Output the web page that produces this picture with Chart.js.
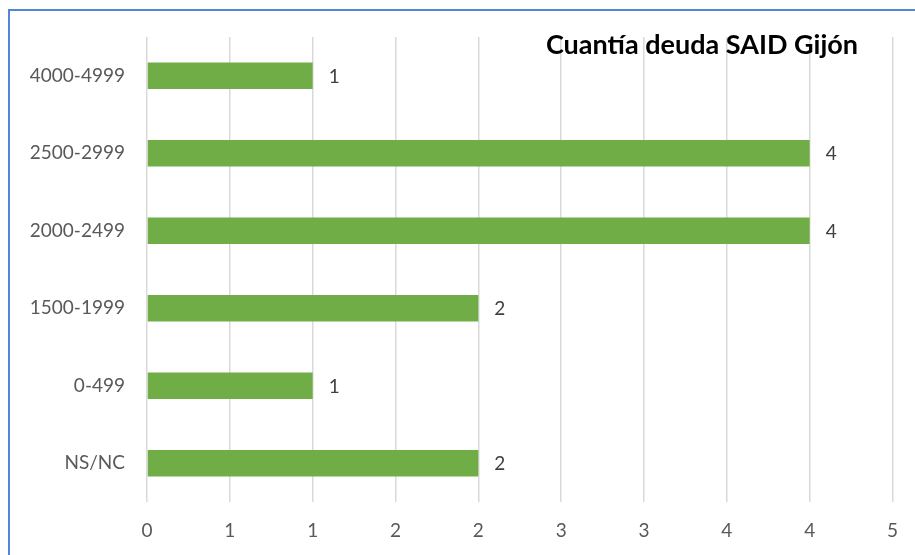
<!DOCTYPE html>
<html>
<head>
<meta charset="utf-8">
<script src="https://cdn.jsdelivr.net/npm/chart.js@4"></script>
<style>
  html, body { margin: 0; padding: 0; background: #fff; overflow: hidden; }
  #wrap { position: relative; width: 915px; height: 555px; }
  #frame { position: absolute; left: 8px; top: 9px; width: 1000px; height: 600px;
           border-left: 2px solid #5585d8; border-top: 2px solid #5585d8; }
  canvas { position: absolute; left: 0; top: 0; }
</style>
</head>
<body>
<div id="wrap">
  <div id="frame"></div>
  <canvas id="chart" width="915" height="555"></canvas>
</div>
<script>
const categories = ['4000-4999', '2500-2999', '2000-2499', '1500-1999', '0-499', 'NS/NC'];
const values = [1, 4, 4, 2, 1, 2];
const xTickLabels = ['0', '1', '1', '2', '2', '3', '3', '4', '4', '5'];
const chartTitle = 'Cuantía deuda SAID Gijón';

const FONT = 'Lato, "Open Sans", sans-serif';

// value labels to the right of each bar
const barLabels = {
    id: 'barLabels',
    afterDatasetsDraw(chart) {
        let ctx = chart.ctx;
        let meta = chart.getDatasetMeta(0);
        ctx.save();
        ctx.fillStyle = '#404040';
        ctx.font = '19px ' + FONT;
        ctx.textAlign = 'left';
        ctx.textBaseline = 'middle';
        meta.data.forEach((bar, i) => {
            ctx.fillText(String(values[i]), bar.x + 16, bar.y + 1);
        });
        ctx.restore();
    }
};

// title sits over the plot, top right
const titleText = {
    id: 'titleText',
    afterDraw(chart) {
        let ctx = chart.ctx;
        ctx.save();
        ctx.fillStyle = '#000';
        ctx.font = 'bold 27px ' + FONT;
        ctx.textAlign = 'right';
        ctx.textBaseline = 'middle';
        ctx.fillText(chartTitle, 858, 45);
        ctx.restore();
    }
};

let ctx = document.getElementById('chart').getContext('2d');
let myChart = new Chart(ctx, {
    type: 'bar',
    data: {
        labels: categories,
        datasets: [{
            data: values,
            backgroundColor: '#70ad47',
            barPercentage: 0.345,
            categoryPercentage: 1
        }]
    },
    options: {
        indexAxis: 'y',
        responsive: false,
        animation: false,
        layout: { padding: { left: 0, top: 37, right: 12, bottom: 0 } },
        plugins: {
            legend: { display: false },
            tooltip: { enabled: false }
        },
        scales: {
            x: {
                min: 0,
                max: 4.5,
                ticks: {
                    stepSize: 0.5,
                    color: '#595959',
                    font: { family: FONT, size: 19 },
                    padding: 17,
                    maxRotation: 0,
                    autoSkip: false,
                    callback: (v, i) => xTickLabels[i]
                },
                grid: { color: '#d9d9d9', lineWidth: 1.5, drawTicks: false },
                border: { display: false },
                afterFit: (scale) => { scale.height = 53; }
            },
            y: {
                ticks: {
                    color: '#595959',
                    font: { family: FONT, size: 19 },
                    padding: 22
                },
                grid: { display: false, drawTicks: false },
                border: { display: false },
                afterFit: (scale) => { scale.width = 147; }
            }
        }
    },
    plugins: [barLabels, titleText]
});
</script>
</body>
</html>
